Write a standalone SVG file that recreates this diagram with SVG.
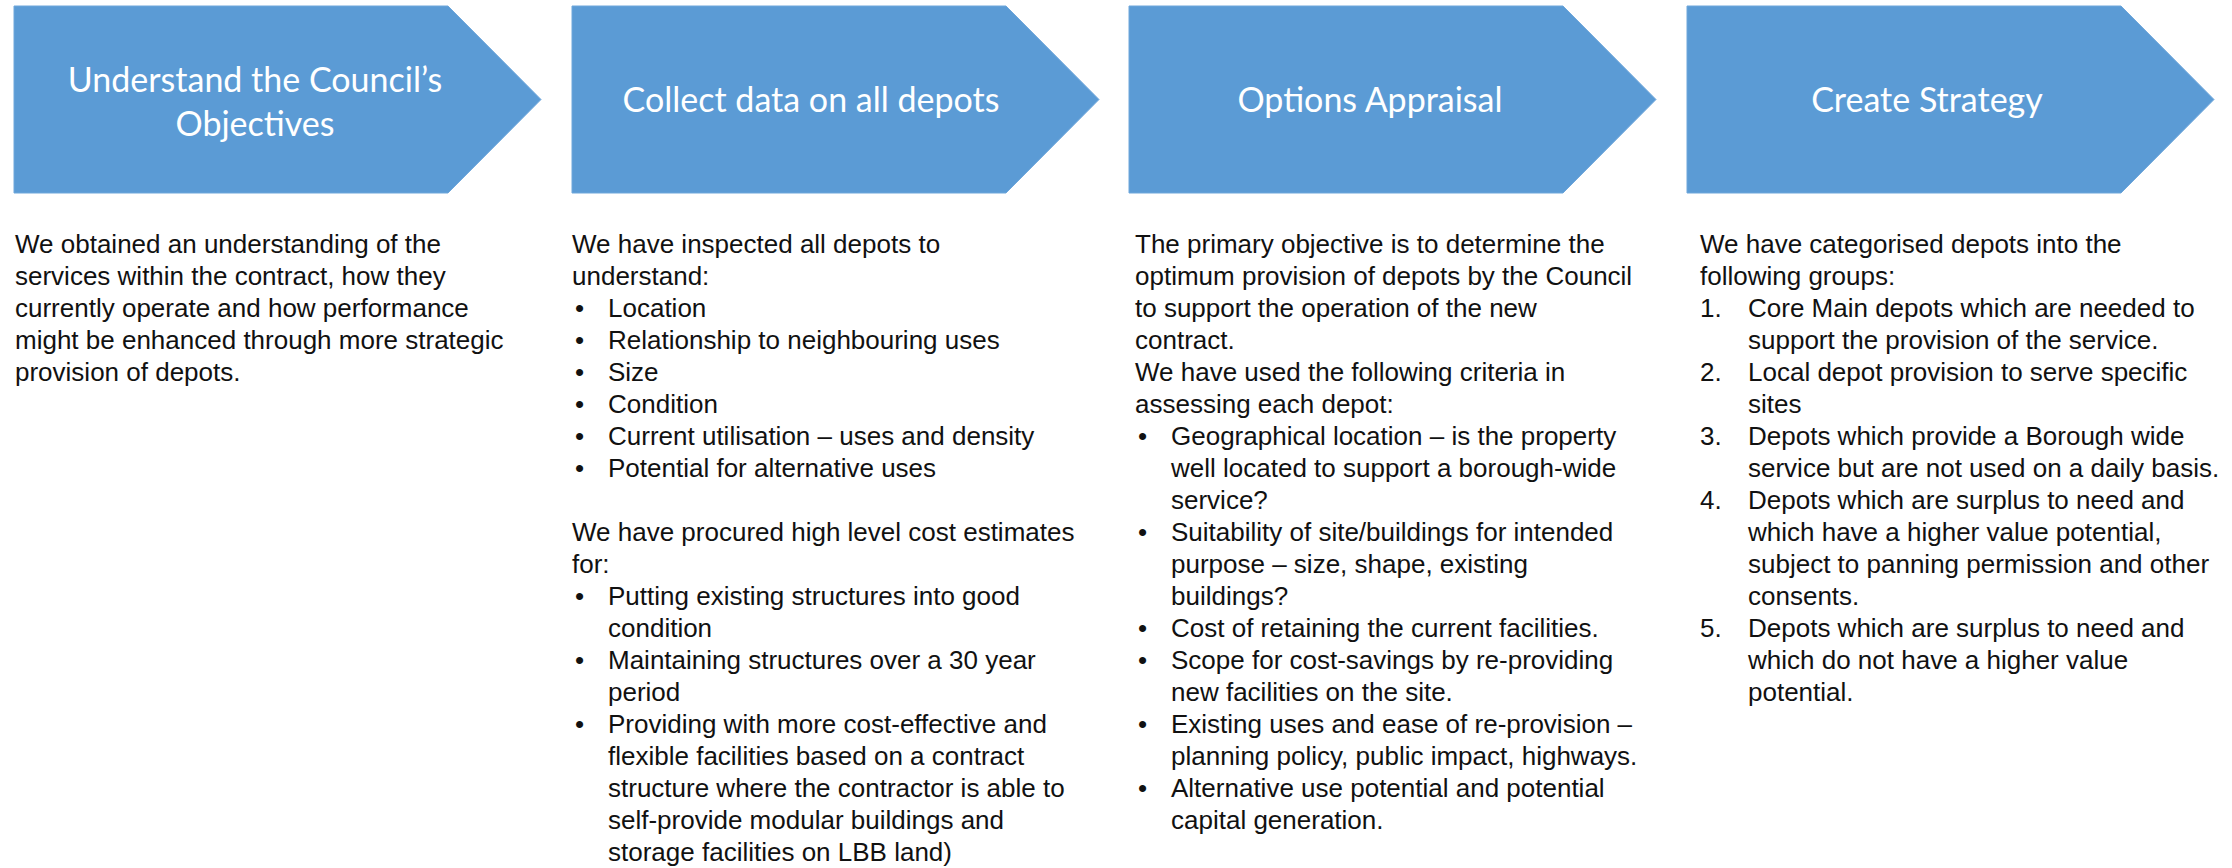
<svg xmlns="http://www.w3.org/2000/svg" width="2232" height="868" viewBox="0 0 2232 868">
  <style>
    .chev { fill: #5b9bd5; stroke: #6fa7db; stroke-width: 1; }
    .title { font-family: Lato, "Open Sans", sans-serif; font-size: 34px; fill: #ffffff; text-anchor: middle; }
    .body { font-family: "Liberation Sans", Arial, sans-serif; font-size: 26px; fill: #111111; }
  </style>
  <defs>
    <!-- step arrow: flat left side, pointed right side -->
    <path id="chevron" d="M0 6 H434 L527 99.5 L434 193 H0 Z"/>
  </defs>

  <rect width="2232" height="868" fill="#ffffff"/>

  <!-- Step 1 -->
  <g id="step-objectives">
    <use href="#chevron" class="chev" x="14"/>
    <text class="title" x="255" y="92">Understand the Council’s</text>
    <text class="title" x="255" y="136">Objectives</text>
  </g>
  <g id="text-objectives" class="body">
    <text x="15" y="253">We obtained an understanding of the</text>
    <text x="15" y="285">services within the contract, how they</text>
    <text x="15" y="317">currently operate and how performance</text>
    <text x="15" y="349">might be enhanced through more strategic</text>
    <text x="15" y="381">provision of depots.</text>
  </g>

  <!-- Step 2 -->
  <g id="step-collect">
    <use href="#chevron" class="chev" x="572"/>
    <text class="title" x="811" y="112">Collect data on all depots</text>
  </g>
  <g id="text-collect" class="body">
    <text x="572" y="253">We have inspected all depots to</text>
    <text x="572" y="285">understand:</text>
    <text x="575" y="317">•</text><text x="608" y="317">Location</text>
    <text x="575" y="349">•</text><text x="608" y="349">Relationship to neighbouring uses</text>
    <text x="575" y="381">•</text><text x="608" y="381">Size</text>
    <text x="575" y="413">•</text><text x="608" y="413">Condition</text>
    <text x="575" y="445">•</text><text x="608" y="445">Current utilisation – uses and density</text>
    <text x="575" y="477">•</text><text x="608" y="477">Potential for alternative uses</text>
    <text x="572" y="541">We have procured high level cost estimates</text>
    <text x="572" y="573">for:</text>
    <text x="575" y="605">•</text><text x="608" y="605">Putting existing structures into good</text>
    <text x="608" y="637">condition</text>
    <text x="575" y="669">•</text><text x="608" y="669">Maintaining structures over a 30 year</text>
    <text x="608" y="701">period</text>
    <text x="575" y="733">•</text><text x="608" y="733">Providing with more cost-effective and</text>
    <text x="608" y="765">flexible facilities based on a contract</text>
    <text x="608" y="797">structure where the contractor is able to</text>
    <text x="608" y="829">self-provide modular buildings and</text>
    <text x="608" y="861">storage facilities on LBB land)</text>
  </g>

  <!-- Step 3 -->
  <g id="step-options">
    <use href="#chevron" class="chev" x="1129"/>
    <text class="title" x="1370" y="112">Options Appraisal</text>
  </g>
  <g id="text-options" class="body">
    <text x="1135" y="253">The primary objective is to determine the</text>
    <text x="1135" y="285">optimum provision of depots by the Council</text>
    <text x="1135" y="317">to support the operation of the new</text>
    <text x="1135" y="349">contract.</text>
    <text x="1135" y="381">We have used the following criteria in</text>
    <text x="1135" y="413">assessing each depot:</text>
    <text x="1138" y="445">•</text><text x="1171" y="445">Geographical location – is the property</text>
    <text x="1171" y="477">well located to support a borough-wide</text>
    <text x="1171" y="509">service?</text>
    <text x="1138" y="541">•</text><text x="1171" y="541">Suitability of site/buildings for intended</text>
    <text x="1171" y="573">purpose – size, shape, existing</text>
    <text x="1171" y="605">buildings?</text>
    <text x="1138" y="637">•</text><text x="1171" y="637">Cost of retaining the current facilities.</text>
    <text x="1138" y="669">•</text><text x="1171" y="669">Scope for cost-savings by re-providing</text>
    <text x="1171" y="701">new facilities on the site.</text>
    <text x="1138" y="733">•</text><text x="1171" y="733">Existing uses and ease of re-provision –</text>
    <text x="1171" y="765">planning policy, public impact, highways.</text>
    <text x="1138" y="797">•</text><text x="1171" y="797">Alternative use potential and potential</text>
    <text x="1171" y="829">capital generation.</text>
  </g>

  <!-- Step 4 -->
  <g id="step-strategy">
    <use href="#chevron" class="chev" x="1687"/>
    <text class="title" x="1927" y="112">Create Strategy</text>
  </g>
  <g id="text-strategy" class="body">
    <text x="1700" y="253">We have categorised depots into the</text>
    <text x="1700" y="285">following groups:</text>
    <text x="1700" y="317">1.</text><text x="1748" y="317">Core Main depots which are needed to</text>
    <text x="1748" y="349">support the provision of the service.</text>
    <text x="1700" y="381">2.</text><text x="1748" y="381">Local depot provision to serve specific</text>
    <text x="1748" y="413">sites</text>
    <text x="1700" y="445">3.</text><text x="1748" y="445">Depots which provide a Borough wide</text>
    <text x="1748" y="477">service but are not used on a daily basis.</text>
    <text x="1700" y="509">4.</text><text x="1748" y="509">Depots which are surplus to need and</text>
    <text x="1748" y="541">which have a higher value potential,</text>
    <text x="1748" y="573">subject to panning permission and other</text>
    <text x="1748" y="605">consents.</text>
    <text x="1700" y="637">5.</text><text x="1748" y="637">Depots which are surplus to need and</text>
    <text x="1748" y="669">which do not have a higher value</text>
    <text x="1748" y="701">potential.</text>
  </g>
</svg>
